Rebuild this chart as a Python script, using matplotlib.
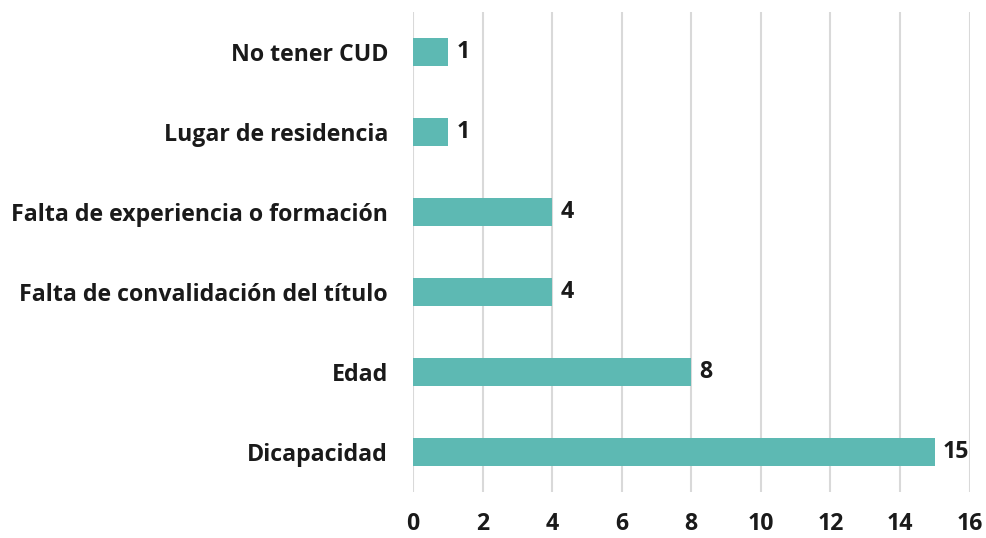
import matplotlib
matplotlib.use('Agg')
import matplotlib.pyplot as plt

categories = ['Dicapacidad', 'Edad', 'Falta de convalidación del título',
              'Falta de experiencia o formación', 'Lugar de residencia', 'No tener CUD']
values = [15, 8, 4, 4, 1, 1]
xticks = [0, 2, 4, 6, 8, 10, 12, 14, 16]

plt.rcParams['font.family'] = ['Open Sans', 'DejaVu Sans']
plt.rcParams['font.weight'] = 'bold'

fig = plt.figure(figsize=(9.86, 5.38), dpi=100)
ax = fig.add_axes([0.4189, 0.0864, 0.5644, 0.8922])

ypos = list(range(len(categories)))
bars = ax.barh(ypos, values, height=0.35, color='#5DB9B3', zorder=3)

for y, v in zip(ypos, values):
    ax.annotate(str(v), (v, y), xytext=(6, 0), textcoords='offset points',
                va='center', ha='left', fontsize=16.7, fontweight='bold', color='#1a1a1a')

ax.set_xlim(0, 16)
ax.set_ylim(-0.5, 5.5)
ax.set_xticks(xticks)
ax.set_yticks(ypos)
ax.set_yticklabels(categories)
ax.tick_params(axis='both', length=0, labelsize=16.7, colors='#1a1a1a')
ax.tick_params(axis='x', pad=15)
ax.tick_params(axis='y', pad=18)
for lbl in ax.get_xticklabels() + ax.get_yticklabels():
    lbl.set_fontweight('bold')

ax.grid(axis='x', color='#D9D9D9', linewidth=1.5, zorder=0)
for s in ax.spines.values():
    s.set_visible(False)

fig.savefig('out.png', dpi=100)
